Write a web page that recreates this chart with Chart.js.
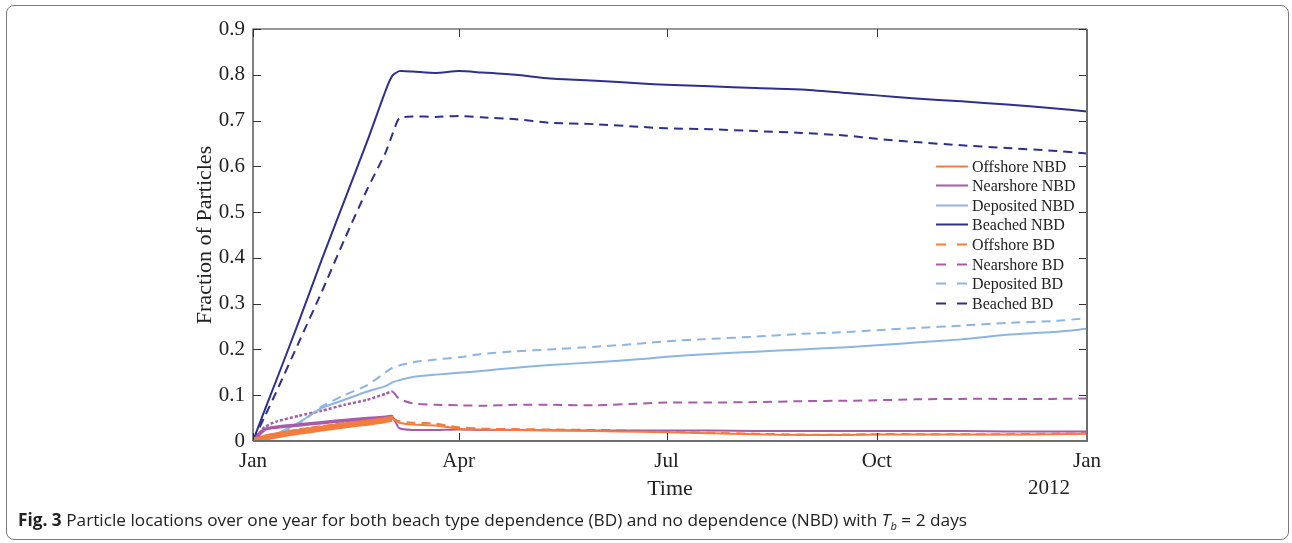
<!DOCTYPE html>
<html>
<head>
<meta charset="utf-8">
<script src="https://cdn.jsdelivr.net/npm/chart.js@4/dist/chart.umd.min.js"></script>
<style>
  html, body { margin:0; padding:0; background:#fff; }
  body { width:1292px; height:543px; position:relative; overflow:hidden; }
  #frame {
    position:absolute; left:6px; top:5px; width:1283px; height:535px;
    border:1.5px solid #7a7a7a; border-radius:8px; box-sizing:border-box;
  }
  #wrap { position:absolute; left:0; top:0; width:1292px; height:543px; }
  #caption {
    position:absolute; left:18px; top:508px; white-space:nowrap;
    font-family:"Open Sans", "Noto Sans", sans-serif; font-size:17px; color:#222;
    transform-origin:0 50%;
  }
  #caption b { font-weight:700; }
</style>
</head>
<body>
<div id="frame"></div>
<div id="wrap"><canvas id="chart"></canvas></div>
<div id="caption"><b>Fig. 3</b> Particle locations over one year for both beach type dependence (BD) and no dependence (NBD) with <i>T</i><sub style="font-size:11px"><i>b</i></sub> = 2 days</div>

<script>
/********************
 * Data (day of year 2011, fraction of particles)
 ********************/
const days = [0, 5, 10, 20, 30, 40, 50, 58, 61, 64, 70, 80, 90, 100, 115, 130, 150, 170, 181, 200, 220, 240, 260, 273, 290, 310, 330, 350, 365];

const offshoreNBD  = [0, 0.007, 0.012, 0.020, 0.027, 0.034, 0.040, 0.046, 0.048, 0.040, 0.036, 0.034, 0.027, 0.025, 0.024, 0.024, 0.022, 0.020, 0.019, 0.017, 0.015, 0.013, 0.013, 0.014, 0.014, 0.014, 0.014, 0.015, 0.016];
const nearshoreNBD = [0, 0.025, 0.030, 0.035, 0.040, 0.045, 0.049, 0.052, 0.053, 0.028, 0.024, 0.024, 0.025, 0.024, 0.024, 0.023, 0.023, 0.023, 0.023, 0.023, 0.022, 0.022, 0.022, 0.022, 0.022, 0.022, 0.021, 0.021, 0.021];
const depositedNBD = [0, 0.006, 0.015, 0.040, 0.072, 0.090, 0.108, 0.120, 0.128, 0.133, 0.140, 0.145, 0.149, 0.153, 0.160, 0.166, 0.172, 0.179, 0.184, 0.190, 0.195, 0.200, 0.205, 0.209, 0.215, 0.222, 0.232, 0.238, 0.245];
const beachedNBD   = [0, 0.066, 0.130, 0.260, 0.395, 0.525, 0.655, 0.765, 0.798, 0.808, 0.807, 0.804, 0.808, 0.805, 0.800, 0.792, 0.787, 0.781, 0.778, 0.775, 0.771, 0.768, 0.760, 0.755, 0.748, 0.742, 0.735, 0.727, 0.720];

const offshoreBD   = [0, 0.008, 0.013, 0.022, 0.029, 0.036, 0.042, 0.047, 0.050, 0.043, 0.040, 0.038, 0.030, 0.027, 0.026, 0.025, 0.024, 0.022, 0.020, 0.018, 0.016, 0.014, 0.014, 0.015, 0.015, 0.015, 0.015, 0.016, 0.017];
const nearshoreBD  = [0, 0.030, 0.042, 0.055, 0.066, 0.079, 0.090, 0.103, 0.108, 0.092, 0.082, 0.079, 0.078, 0.077, 0.079, 0.079, 0.078, 0.082, 0.084, 0.084, 0.085, 0.087, 0.088, 0.089, 0.091, 0.092, 0.092, 0.092, 0.093];
const depositedBD  = [0, 0.006, 0.014, 0.037, 0.075, 0.100, 0.122, 0.150, 0.160, 0.165, 0.172, 0.178, 0.183, 0.190, 0.196, 0.200, 0.206, 0.213, 0.218, 0.223, 0.228, 0.234, 0.238, 0.242, 0.247, 0.252, 0.258, 0.262, 0.268];
const beachedBD    = [0, 0.052, 0.105, 0.215, 0.325, 0.440, 0.550, 0.630, 0.670, 0.705, 0.709, 0.708, 0.710, 0.707, 0.703, 0.695, 0.692, 0.686, 0.683, 0.681, 0.677, 0.673, 0.667, 0.660, 0.653, 0.646, 0.640, 0.634, 0.628];

const monthTickDays = [0, 90, 181, 273, 365];
const monthTickLabels = ["Jan", "Apr", "Jul", "Oct", "Jan"];
const yTickValues = [0, 0.1, 0.2, 0.3, 0.4, 0.5, 0.6, 0.7, 0.8, 0.9];

const C_OFF = "#f47c3c";
const C_NEAR = "#a95bab";
const C_DEP = "#8db5e2";
const C_BEACH = "#2e2f8f";
const DASH = [9, 6];
const SERIF = "'Liberation Serif', 'Times New Roman', serif";

function pts(vals){
  return days.map((d, i) => ({ x: d, y: vals[i] }));
}

function ds(label, vals, color, dashed, early){
  // early: optional style for the noisy part before the peak
  const o = {
    label,
    data: pts(vals),
    borderColor: color,
    borderWidth: 2,
    borderDash: dashed ? DASH : [],
    pointRadius: 0,
    tension: 0.2,
    fill: false
  };
  if(early){
    o.segment = {
      borderWidth: ctx => ctx.p1.parsed.x <= 61 ? early.width : 2,
      borderDash: ctx => (ctx.p1.parsed.x <= 61 && early.dash) ? early.dash : (dashed ? DASH : [])
    };
  }
  return o;
}

const datasets = [
  ds("Offshore NBD", offshoreNBD, C_OFF, false, { width: 6 }),
  ds("Nearshore NBD", nearshoreNBD, C_NEAR, false, { width: 3.5 }),
  ds("Deposited NBD", depositedNBD, C_DEP, false),
  ds("Beached NBD", beachedNBD, C_BEACH, false),
  ds("Offshore BD", offshoreBD, C_OFF, true, { width: 5, dash: [9, 3] }),
  ds("Nearshore BD", nearshoreBD, C_NEAR, true, { width: 2.5, dash: [3, 2] }),
  ds("Deposited BD", depositedBD, C_DEP, true),
  ds("Beached BD", beachedBD, C_BEACH, true)
];

/********************
 * Box frame, inward ticks, titles, legend
 ********************/
const decorPlugin = {
  id: "decor",
  afterDraw(chart){
    const { ctx, chartArea: a, scales } = chart;
    const xs = scales.x, ys = scales.y;
    ctx.save();

    // inward ticks
    ctx.strokeStyle = "#333";
    ctx.lineWidth = 1;
    const tl = 8;
    monthTickDays.forEach(d => {
      const px = Math.round(xs.getPixelForValue(d)) + 0.5;
      ctx.beginPath();
      ctx.moveTo(px, a.bottom); ctx.lineTo(px, a.bottom - tl);
      ctx.moveTo(px, a.top); ctx.lineTo(px, a.top + tl);
      ctx.stroke();
    });
    yTickValues.forEach(v => {
      const py = Math.round(ys.getPixelForValue(v)) + 0.5;
      ctx.beginPath();
      ctx.moveTo(a.left, py); ctx.lineTo(a.left + tl, py);
      ctx.moveTo(a.right, py); ctx.lineTo(a.right - tl, py);
      ctx.stroke();
    });

    // frame
    ctx.strokeStyle = "#333";
    ctx.lineWidth = 1.2;
    ctx.beginPath();
    ctx.moveTo(a.left, a.bottom); ctx.lineTo(a.left, a.top); ctx.lineTo(a.right, a.top);
    ctx.stroke();
    ctx.strokeStyle = "#6e6e6e";
    ctx.lineWidth = 2;
    ctx.beginPath();
    ctx.moveTo(a.left, a.bottom); ctx.lineTo(a.right, a.bottom); ctx.lineTo(a.right, a.top);
    ctx.stroke();

    // titles
    ctx.fillStyle = "#222";
    ctx.font = "22px " + SERIF;
    ctx.textAlign = "center";
    ctx.textBaseline = "middle";
    ctx.fillText("Time", (a.left + a.right) / 2, 489);
    ctx.font = "21px " + SERIF;
    ctx.textAlign = "right";
    ctx.fillText("2012", 1070, 488);

    ctx.save();
    ctx.translate(205, (a.top + a.bottom) / 2);
    ctx.rotate(-Math.PI / 2);
    ctx.font = "22px " + SERIF;
    ctx.textAlign = "center";
    ctx.fillText("Fraction of Particles", 0, 0);
    ctx.restore();

    // legend
    const lx = 936, lw = 32, ty0 = 165.5, step = 19.6;
    ctx.font = "16px " + SERIF;
    ctx.textAlign = "left";
    ctx.textBaseline = "middle";
    chart.data.datasets.forEach((d, i) => {
      const y = Math.round(ty0 + i * step) + 0.5;
      ctx.strokeStyle = d.borderColor;
      ctx.lineWidth = 2;
      ctx.setLineDash(d.borderDash.length ? [10, 11] : []);
      ctx.beginPath();
      ctx.moveTo(lx, y); ctx.lineTo(lx + lw, y);
      ctx.stroke();
      ctx.setLineDash([]);
      ctx.fillStyle = "#222";
      ctx.fillText(d.label, 972, y + 1);
    });

    ctx.restore();
  }
};

const ctx = document.getElementById("chart").getContext("2d");
new Chart(ctx, {
  type: "line",
  data: { datasets },
  options: {
    responsive: true,
    maintainAspectRatio: false,
    animation: false,
    layout: { padding: { left: 0, right: 205, top: 29, bottom: 0 } },
    plugins: { legend: { display: false }, tooltip: { enabled: false } },
    scales: {
      x: {
        type: "linear",
        min: 0, max: 365,
        grid: { display: false, drawTicks: false, tickLength: 0 },
        border: { display: false },
        afterBuildTicks: s => { s.ticks = monthTickDays.map(v => ({ value: v })); },
        afterFit: s => { s.height = 102; },
        ticks: {
          autoSkip: false, maxRotation: 0, padding: 8,
          color: "#222",
          font: { family: SERIF, size: 21 },
          callback: v => monthTickLabels[monthTickDays.indexOf(v)]
        }
      },
      y: {
        min: 0, max: 0.9,
        grid: { display: false, drawTicks: false, tickLength: 0 },
        border: { display: false },
        afterBuildTicks: s => { s.ticks = yTickValues.map(v => ({ value: v })); },
        afterFit: s => { s.width = 253; },
        ticks: {
          padding: 8,
          color: "#222",
          font: { family: SERIF, size: 21 },
          callback: v => v === 0 ? "0" : v.toFixed(1)
        }
      }
    }
  },
  plugins: [decorPlugin]
});

// stretch the caption to the reference's line length
const cap = document.getElementById("caption");
const w = cap.getBoundingClientRect().width;
cap.style.transform = "scaleX(" + (949 / w) + ")";
</script>
</body>
</html>
